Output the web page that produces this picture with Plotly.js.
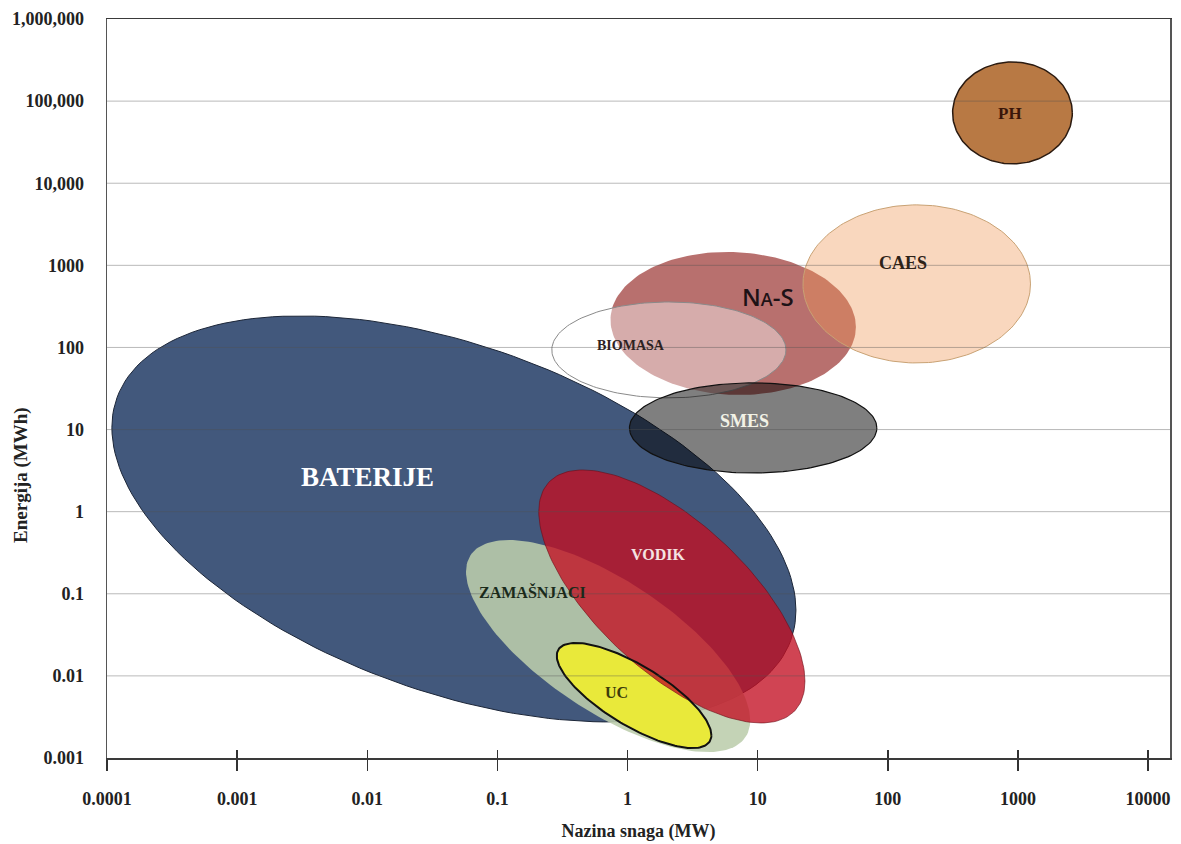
<!DOCTYPE html>
<html>
<head>
<meta charset="utf-8">
<script src="https://cdn.plot.ly/plotly-3.0.1.min.js"></script>
<style>html,body{margin:0;padding:0;background:#fff;}#chart{width:1181px;height:844px;}</style>
</head>
<body>
<div id="chart"></div>
<script>
// ---- data (power in MW, energy in MWh) ----
const techNames  = ['PH', 'Na-S', 'BIOMASA', 'CAES', 'BATERIJE', 'SMES', 'ZAMAŠNJACI', 'UC', 'VODIK'];
const powerMin   = [315, 0.74, 0.262, 22.3, 0.000109, 1.035, 0.0574, 0.286, 0.208];
const powerMax   = [2620, 56.9, 16.5, 1250, 19.7, 82.4, 8.77, 4.41, 23.1];
const energyMin  = [17200, 26.4, 24.3, 64.7, 0.00275, 2.96, 0.00118, 0.00132, 0.00267];
const energyMax  = [300000, 1455, 358, 5450, 242, 37.0, 0.452, 0.0252, 3.22];
const tilt       = [0, -0.05, 0, 0, -0.45, 0, -0.70, -0.755, -0.67];
const labelPower  = [877, 12.0, 1.07, 130, 0.01, 7.9, 0.187, 0.82, 1.73];
const labelEnergy = [69800, 420, 107, 1070, 2.65, 12.7, 0.105, 0.0062, 0.297];

const xTickVals = [0.0001, 0.001, 0.01, 0.1, 1, 10, 100, 1000, 10000];
const xTickText = ['0.0001', '0.001', '0.01', '0.1', '1', '10', '100', '1000', '10000'];
const yTickVals = [0.001, 0.01, 0.1, 1, 10, 100, 1000, 10000, 100000, 1000000];
const yTickText = ['0.001', '0.01', '0.1', '1', '10', '100', '1000', '10,000', '100,000', '1,000,000'];

// ---- styles ----
const SERIF = '"Liberation Serif", "Times New Roman", serif';
const styles = {
  'PH':         {fill: 'rgb(184,121,68)',       line: '#2a1a10', lw: 1.5, lab: '#3a160a', size: 17},
  'Na-S':       {fill: 'rgb(184,112,110)',      line: 'rgba(0,0,0,0)', lw: 0, lab: '#1e1216', size: 24},
  'BIOMASA':    {fill: 'rgba(255,255,255,0.42)',line: '#8a8a8a', lw: 1, lab: '#2e2222', size: 14},
  'CAES':       {fill: 'rgba(238,150,85,0.38)', line: '#c9a274', lw: 1, lab: '#2e2218', size: 18},
  'BATERIJE':   {fill: 'rgb(66,88,124)',        line: '#1c2638', lw: 1, lab: '#ffffff', size: 27},
  'SMES':       {fill: 'rgba(0,0,0,0.5)',       line: '#111111', lw: 1.2, lab: '#f2f2e6', size: 18},
  'ZAMAŠNJACI': {fill: 'rgba(188,205,172,0.88)',line: 'rgba(0,0,0,0)', lw: 0, lab: '#1a2a1a', size: 16},
  'UC':         {fill: 'rgb(233,233,58)',       line: 'rgba(0,0,0,0)', lw: 0, lab: '#3c3c0a', size: 16},
  'VODIK':      {fill: 'rgba(195,15,35,0.78)',  line: 'rgba(110,10,20,0.6)', lw: 1, lab: '#f5e2e2', size: 16}
};

function ellipsePts(i) {
  const lx0 = Math.log10(powerMin[i]), lx1 = Math.log10(powerMax[i]);
  const ly0 = Math.log10(energyMin[i]), ly1 = Math.log10(energyMax[i]);
  const cx = (lx0 + lx1) / 2, W = (lx1 - lx0) / 2;
  const cy = (ly0 + ly1) / 2, H = (ly1 - ly0) / 2;
  const phi = Math.acos(tilt[i]);
  const xs = [], ys = [];
  for (let k = 0; k <= 180; k++) {
    const t = 2 * Math.PI * k / 180;
    xs.push(Math.pow(10, cx + W * Math.cos(t)));
    ys.push(Math.pow(10, cy + H * Math.cos(t - phi)));
  }
  return {xs, ys};
}

const traces = [];
techNames.forEach((n, i) => {
  const p = ellipsePts(i), s = styles[n];
  traces.push({
    type: 'scatter', mode: 'lines', x: p.xs, y: p.ys, fill: 'toself',
    fillcolor: s.fill, line: {color: s.line, width: s.lw}, hoverinfo: 'skip', name: n, showlegend: false
  });
});
// UC outline drawn on top
(function () {
  const i = techNames.indexOf('UC'); const p = ellipsePts(i);
  traces.push({type: 'scatter', mode: 'lines', x: p.xs, y: p.ys, line: {color: '#111', width: 2},
    hoverinfo: 'skip', showlegend: false});
})();
// invisible trace for the overlay axis carrying the inner half of the x ticks
traces.push({type: 'scatter', x: [1], y: [1], xaxis: 'x2', yaxis: 'y', mode: 'markers',
  marker: {opacity: 0}, hoverinfo: 'skip', showlegend: false});

const annotations = techNames.map((n, i) => {
  const s = styles[n];
  const txt = n === 'Na-S' ? 'N<span style="font-size:18px">A</span>-S' : '<b>' + n + '</b>';
  return {
    x: Math.log10(labelPower[i]), y: Math.log10(labelEnergy[i]), xref: 'x', yref: 'y',
    text: txt, showarrow: false,
    font: {family: n === 'Na-S' ? '"Open Sans", "DejaVu Sans", sans-serif' : SERIF, size: s.size, color: s.lab,
           weight: n === 'Na-S' ? 600 : 'normal'}
  };
});
annotations.push({
  text: '<b>Energija (MWh)</b>', textangle: -90, xref: 'paper', yref: 'paper',
  x: 0, y: 0.383, xanchor: 'center', yanchor: 'middle', xshift: -86, showarrow: false,
  font: {family: SERIF, size: 19, color: '#222'}
});

const shapes = yTickVals.slice(1, -1).map(v => ({
  type: 'line', xref: 'paper', x0: 0, x1: 1, yref: 'y', y0: v, y1: v, layer: 'above',
  line: {color: 'rgba(80,80,80,0.4)', width: 1}
}));

const xRange = [-4, 4.169];
const layout = {
  width: 1181, height: 844,
  margin: {l: 107, r: 11, t: 19, b: 86},
  paper_bgcolor: '#fff', plot_bgcolor: '#fff',
  showlegend: false,
  xaxis: {
    type: 'log', range: xRange, tickvals: xTickVals, ticktext: xTickText,
    showgrid: false, zeroline: false, showline: true, linecolor: '#3a3a3a', linewidth: 1.5, mirror: true,
    ticks: 'outside', ticklen: 11, tickwidth: 1.5, tickcolor: '#333',
    ticklabelstandoff: 13,
    tickfont: {family: SERIF, size: 18, color: '#222', weight: 'bold'},
    title: {text: '<b>Nazina snaga (MW)</b>', font: {family: SERIF, size: 18, color: '#222'}, standoff: 16},
    fixedrange: true
  },
  xaxis2: {
    type: 'log', range: xRange, overlaying: 'x', anchor: 'y', side: 'bottom',
    tickvals: xTickVals, ticks: 'inside', ticklen: 8, tickwidth: 1.5, tickcolor: '#333',
    showticklabels: false, showgrid: false, zeroline: false, showline: false, fixedrange: true
  },
  yaxis: {
    type: 'log', range: [-3, 6], tickvals: yTickVals, ticktext: yTickText,
    showgrid: false, zeroline: false, showline: true, linecolor: '#555', linewidth: 1.5, mirror: true,
    ticks: '', ticklabelstandoff: 18,
    tickfont: {family: SERIF, size: 18, color: '#222', weight: 'bold'},
    fixedrange: true
  },
  shapes: shapes,
  annotations: annotations
};

Plotly.newPlot('chart', traces, layout, {displayModeBar: false, staticPlot: true});
</script>
</body>
</html>
